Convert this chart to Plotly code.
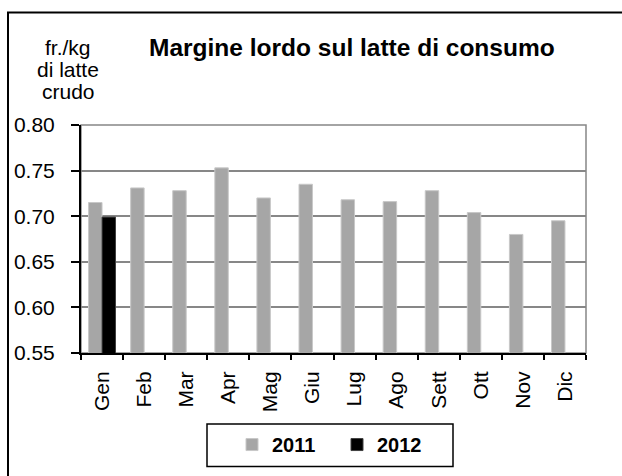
import plotly.graph_objects as go

months = ["Gen", "Feb", "Mar", "Apr", "Mag", "Giu", "Lug", "Ago", "Sett", "Ott", "Nov", "Dic"]
values_2011 = [0.715, 0.731, 0.728, 0.753, 0.720, 0.735, 0.718, 0.716, 0.728, 0.704, 0.680, 0.695]
values_2012 = [0.699, None, None, None, None, None, None, None, None, None, None, None]
y_ticks = [0.55, 0.60, 0.65, 0.70, 0.75, 0.80]
y_tick_labels = ["0.55", "0.60", "0.65", "0.70", "0.75", "0.80"]
unit_lines = ["fr./kg", "di latte", "crudo"]

FONT = "Liberation Sans, Arial, sans-serif"

fig = go.Figure()
fig.add_trace(go.Bar(
    x=months, y=values_2011, name="2011",
    marker=dict(color="#A6A6A6", line=dict(color="#C8C8C8", width=1)),
))
fig.add_trace(go.Bar(
    x=months, y=values_2012, name="2012",
    marker=dict(color="#000000", line=dict(color="#404040", width=1)),
))

L, R, T, B = 81, 36, 125, 120
W, H = 622, 476
pw, ph = W - L - R, H - T - B

def px_x(px):
    return (px - L) / pw

def px_y(py):
    return (H - B - py) / ph

annotations = [
    dict(text="<b>Margine lordo sul latte di consumo</b>", xref="paper", yref="paper",
         x=px_x(352), y=px_y(46), xanchor="center", yanchor="middle", showarrow=False,
         font=dict(family=FONT, size=24.5, color="black")),
]
for i, line in enumerate(unit_lines):
    annotations.append(dict(
        text=line, xref="paper", yref="paper",
        x=px_x(68), y=px_y(46 + 22.5 * i), xanchor="center", yanchor="middle",
        showarrow=False, font=dict(family=FONT, size=21, color="black")))

fig.update_layout(
    width=W, height=H,
    margin=dict(l=L, r=R, t=T, b=B, pad=0),
    paper_bgcolor="white", plot_bgcolor="white",
    barmode="group", bargap=0.36, bargroupgap=0,
    font=dict(family=FONT, size=21, color="black"),
    showlegend=True,
    legend=dict(
        orientation="h", x=px_x(232), xanchor="left", y=px_y(429), yanchor="top",
        borderwidth=0, bgcolor="rgba(0,0,0,0)",
        font=dict(family=FONT, size=20, color="black", weight="bold"),
        itemwidth=30, entrywidth=60, entrywidthmode="pixels", traceorder="normal",
    ),
    xaxis=dict(
        type="category", tickangle=-90, tickson="boundaries",
        ticks="outside", ticklen=5, tickwidth=2, tickcolor="black",
        showline=True, linecolor="black", linewidth=2,
        showgrid=False, ticklabelstandoff=8,
        tickfont=dict(family=FONT, size=21),
    ),
    yaxis=dict(
        range=[0.55, 0.80], tickvals=y_ticks, ticktext=y_tick_labels,
        ticks="outside", ticklen=8, tickwidth=1.5, tickcolor="black",
        showline=True, linecolor="black", linewidth=2,
        showgrid=True, gridcolor="#878787", gridwidth=1.5,
        ticklabelstandoff=12, zeroline=False,
        tickfont=dict(family=FONT, size=21),
    ),
    shapes=[
        dict(type="rect", xref="paper", yref="paper", x0=0, x1=1, y0=0, y1=1,
             line=dict(color="#878787", width=1.5), layer="below"),
        dict(type="rect", xref="paper", yref="paper",
             x0=px_x(8), x1=px_x(640), y0=px_y(11), y1=px_y(500),
             line=dict(color="black", width=2), layer="below"),
        dict(type="rect", xref="paper", yref="paper",
             x0=px_x(207), x1=px_x(453), y0=px_y(428), y1=px_y(471),
             line=dict(color="black", width=1.5), layer="above"),
    ],
    annotations=annotations,
)

fig.write_html("out.html", config={"displayModeBar": False},
               post_script="document.body.style.margin='0';")
